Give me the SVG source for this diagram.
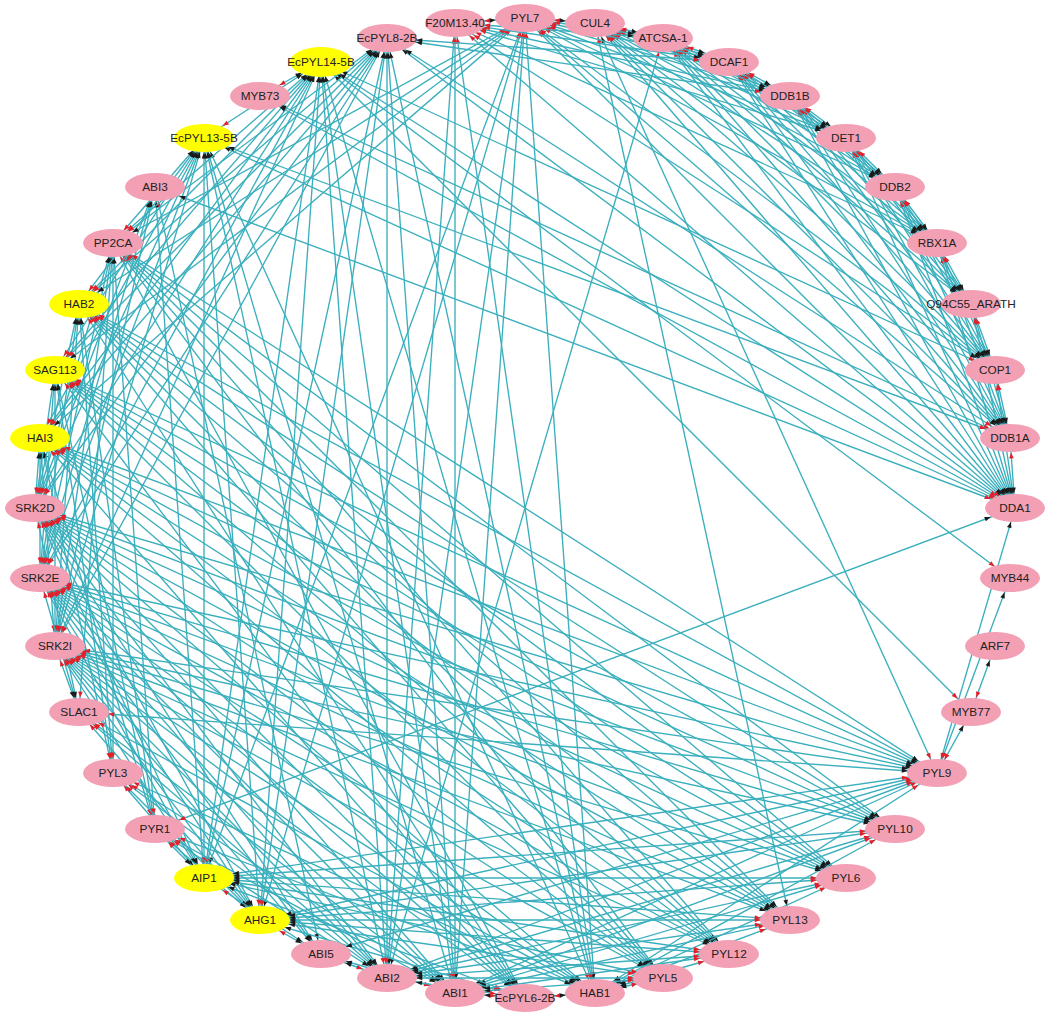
<svg xmlns="http://www.w3.org/2000/svg" width="1052" height="1016" viewBox="0 0 1052 1016">
<style>
.e path{fill:none;stroke:#3aafbd;stroke-width:1.35}
.A{marker-start:url(#rA);marker-end:url(#kA)}
.B{marker-start:url(#rB);marker-end:url(#kB)}
.C{marker-start:url(#rC);marker-end:url(#kC)}
.D{marker-start:url(#rD);marker-end:url(#kD)}
.E{marker-start:url(#rE);marker-end:url(#kE)}
.F{marker-start:url(#rF);marker-end:url(#kF)}
.G{marker-start:url(#rG);marker-end:url(#kG)}
.n ellipse{fill:#f3a0b5}
.n.y ellipse{fill:#ffff00}
.n text{font-family:"Liberation Sans",Arial,sans-serif;font-size:11.8px;fill:#222;text-anchor:middle}
.ak{fill:#1a1a1a}
.ar{fill:#e3202a}
</style>
<defs>
<marker id="kA" markerUnits="userSpaceOnUse" orient="auto" refX="14.5" refY="0" markerWidth="10" markerHeight="10" overflow="visible"><path class="ak" d="M0 0L-6 -2.3L-6 2.3Z"/></marker>
<marker id="kB" markerUnits="userSpaceOnUse" orient="auto" refX="15.3" refY="0" markerWidth="10" markerHeight="10" overflow="visible"><path class="ak" d="M0 0L-6 -2.3L-6 2.3Z"/></marker>
<marker id="kC" markerUnits="userSpaceOnUse" orient="auto" refX="16.5" refY="0" markerWidth="10" markerHeight="10" overflow="visible"><path class="ak" d="M0 0L-6 -2.3L-6 2.3Z"/></marker>
<marker id="kD" markerUnits="userSpaceOnUse" orient="auto" refX="19" refY="0" markerWidth="10" markerHeight="10" overflow="visible"><path class="ak" d="M0 0L-6 -2.3L-6 2.3Z"/></marker>
<marker id="kE" markerUnits="userSpaceOnUse" orient="auto" refX="22.3" refY="0" markerWidth="10" markerHeight="10" overflow="visible"><path class="ak" d="M0 0L-6 -2.3L-6 2.3Z"/></marker>
<marker id="kF" markerUnits="userSpaceOnUse" orient="auto" refX="26" refY="0" markerWidth="10" markerHeight="10" overflow="visible"><path class="ak" d="M0 0L-6 -2.3L-6 2.3Z"/></marker>
<marker id="kG" markerUnits="userSpaceOnUse" orient="auto" refX="29.3" refY="0" markerWidth="10" markerHeight="10" overflow="visible"><path class="ak" d="M0 0L-6 -2.3L-6 2.3Z"/></marker>
<marker id="rA" markerUnits="userSpaceOnUse" orient="auto-start-reverse" refX="14.5" refY="0" markerWidth="10" markerHeight="10" overflow="visible"><path class="ar" d="M0 0L-6 -2.3L-6 2.3Z"/></marker>
<marker id="rB" markerUnits="userSpaceOnUse" orient="auto-start-reverse" refX="15.3" refY="0" markerWidth="10" markerHeight="10" overflow="visible"><path class="ar" d="M0 0L-6 -2.3L-6 2.3Z"/></marker>
<marker id="rC" markerUnits="userSpaceOnUse" orient="auto-start-reverse" refX="16.5" refY="0" markerWidth="10" markerHeight="10" overflow="visible"><path class="ar" d="M0 0L-6 -2.3L-6 2.3Z"/></marker>
<marker id="rD" markerUnits="userSpaceOnUse" orient="auto-start-reverse" refX="19" refY="0" markerWidth="10" markerHeight="10" overflow="visible"><path class="ar" d="M0 0L-6 -2.3L-6 2.3Z"/></marker>
<marker id="rE" markerUnits="userSpaceOnUse" orient="auto-start-reverse" refX="22.3" refY="0" markerWidth="10" markerHeight="10" overflow="visible"><path class="ar" d="M0 0L-6 -2.3L-6 2.3Z"/></marker>
<marker id="rF" markerUnits="userSpaceOnUse" orient="auto-start-reverse" refX="26" refY="0" markerWidth="10" markerHeight="10" overflow="visible"><path class="ar" d="M0 0L-6 -2.3L-6 2.3Z"/></marker>
<marker id="rG" markerUnits="userSpaceOnUse" orient="auto-start-reverse" refX="29.3" refY="0" markerWidth="10" markerHeight="10" overflow="visible"><path class="ar" d="M0 0L-6 -2.3L-6 2.3Z"/></marker>
</defs>
<rect width="1052" height="1016" fill="#ffffff"/>
<g id="connectors" class="e">
<g class="A">
<path d="M937 243L1015 508"/><path d="M971 304L1010 438"/><path d="M971 304L1015 508"/><path d="M995 370L1010 438"/><path d="M995 370L1015 508"/><path d="M1010 438L1015 508"/>
<path d="M525 18L595 993"/><path d="M525 18L455 993"/><path d="M525 18L387 978"/><path d="M525 18L260 920"/>
<path d="M455 23L595 993"/><path d="M455 23L455 993"/><path d="M455 23L387 978"/>
<path d="M937 773L1015 508"/>
<path d="M155 829L40 438"/><path d="M155 829L55 370"/><path d="M155 829L79 304"/><path d="M155 829L113 243"/>
<path d="M113 773L40 438"/><path d="M113 773L55 370"/><path d="M113 773L79 304"/><path d="M113 773L113 243"/>
<path d="M455 993L204 138"/><path d="M387 978L204 138"/><path d="M260 920L204 138"/><path d="M204 878L204 138"/>
<path d="M595 993L321 62"/><path d="M455 993L321 62"/><path d="M387 978L321 62"/><path d="M260 920L321 62"/><path d="M204 878L321 62"/>
<path d="M595 993L387 38"/><path d="M455 993L387 38"/><path d="M387 978L387 38"/><path d="M260 920L387 38"/><path d="M204 878L387 38"/>
<path d="M55 646L40 438"/><path d="M55 646L55 370"/><path d="M55 646L79 304"/><path d="M55 646L113 243"/>
<path d="M40 578L40 438"/><path d="M40 578L55 370"/><path d="M40 578L79 304"/><path d="M40 578L113 243"/>
<path d="M35 508L40 438"/><path d="M35 508L55 370"/><path d="M35 508L79 304"/><path d="M35 508L113 243"/>
<path d="M55 646L204 138"/><path d="M40 578L79 712"/><path d="M35 508L79 712"/><path d="M79 712L113 243"/>
<path d="M155 187L321 954"/><path d="M55 646L155 187"/><path d="M40 578L155 187"/><path d="M204 878L155 187"/>
<path d="M595 23L790 920"/><path d="M663 38L387 978"/>
</g>
<g class="B">
<path d="M790 96L1015 508"/><path d="M846 138L1010 438"/><path d="M846 138L1015 508"/><path d="M895 187L995 370"/><path d="M895 187L1010 438"/><path d="M895 187L1015 508"/>
<path d="M937 243L971 304"/><path d="M937 243L995 370"/><path d="M937 243L1010 438"/><path d="M971 304L995 370"/>
<path d="M525 18L204 878"/><path d="M937 773L971 712"/><path d="M937 773L1010 578"/><path d="M971 712L995 646"/><path d="M937 773L595 23"/>
<path d="M113 243L525 998"/><path d="M595 993L204 138"/><path d="M40 438L204 138"/>
<path d="M55 646L321 62"/><path d="M40 578L321 62"/><path d="M55 646L387 38"/><path d="M40 578L204 138"/><path d="M35 508L204 138"/>
<path d="M40 578L204 878"/><path d="M35 508L260 920"/><path d="M35 508L204 878"/><path d="M55 646L79 712"/><path d="M35 508L155 187"/>
</g>
<g class="C">
<path d="M595 23L1015 508"/><path d="M663 38L1010 438"/><path d="M663 38L1015 508"/><path d="M729 62L995 370"/><path d="M729 62L1010 438"/><path d="M729 62L1015 508"/>
<path d="M790 96L971 304"/><path d="M790 96L995 370"/><path d="M790 96L1010 438"/><path d="M846 138L937 243"/><path d="M846 138L971 304"/><path d="M846 138L995 370"/>
<path d="M895 187L937 243"/><path d="M895 187L971 304"/>
<path d="M113 243L729 954"/><path d="M79 304L663 978"/><path d="M113 243L663 978"/>
<path d="M40 438L525 998"/><path d="M55 370L525 998"/><path d="M79 304L525 998"/>
<path d="M113 773L204 878"/><path d="M55 370L204 138"/><path d="M79 304L204 138"/><path d="M113 243L204 138"/>
<path d="M40 438L321 62"/><path d="M55 370L321 62"/><path d="M40 438L387 38"/>
<path d="M55 646L260 920"/><path d="M55 646L204 878"/><path d="M40 578L387 978"/><path d="M40 578L260 920"/><path d="M35 508L455 993"/><path d="M35 508L387 978"/>
<path d="M35 508L321 62"/><path d="M40 578L387 38"/><path d="M35 508L387 38"/>
<path d="M79 712L260 920"/><path d="M55 646L321 954"/><path d="M40 578L321 954"/><path d="M35 508L321 954"/>
</g>
<g class="D">
<path d="M595 23L971 304"/><path d="M595 23L995 370"/><path d="M595 23L1010 438"/><path d="M663 38L937 243"/><path d="M663 38L971 304"/><path d="M663 38L995 370"/>
<path d="M729 62L895 187"/><path d="M729 62L937 243"/><path d="M729 62L971 304"/><path d="M790 96L846 138"/><path d="M790 96L895 187"/><path d="M790 96L937 243"/><path d="M846 138L895 187"/>
<path d="M525 18L995 370"/><path d="M525 18L1010 438"/><path d="M525 18L1015 508"/><path d="M455 23L1015 508"/>
<path d="M1015 508L387 38"/><path d="M1010 578L321 62"/><path d="M971 712L321 62"/>
<path d="M525 18L40 438"/><path d="M525 18L55 370"/>
<path d="M113 243L895 829"/><path d="M79 304L846 878"/><path d="M113 243L846 878"/>
<path d="M55 370L790 920"/><path d="M79 304L790 920"/><path d="M113 243L790 920"/>
<path d="M40 438L729 954"/><path d="M55 370L729 954"/><path d="M79 304L729 954"/>
<path d="M40 438L663 978"/><path d="M55 370L663 978"/>
<path d="M155 829L260 920"/><path d="M155 829L204 878"/><path d="M113 773L387 978"/><path d="M113 773L260 920"/>
<path d="M79 304L321 62"/><path d="M113 243L321 62"/><path d="M55 370L387 38"/><path d="M79 304L387 38"/><path d="M113 243L387 38"/>
<path d="M55 646L455 993"/><path d="M55 646L387 978"/><path d="M40 578L595 993"/><path d="M40 578L455 993"/><path d="M35 508L595 993"/><path d="M35 508L663 978"/>
<path d="M55 646L525 998"/><path d="M40 578L525 998"/><path d="M35 508L525 998"/>
<path d="M79 712L455 993"/><path d="M79 712L387 978"/>
</g>
<g class="E">
<path d="M595 23L846 138"/><path d="M595 23L895 187"/><path d="M595 23L937 243"/><path d="M663 38L790 96"/><path d="M663 38L846 138"/><path d="M663 38L895 187"/>
<path d="M729 62L790 96"/><path d="M729 62L846 138"/>
<path d="M525 18L895 187"/><path d="M525 18L937 243"/><path d="M455 23L937 243"/><path d="M455 23L995 370"/>
<path d="M1010 438L387 38"/><path d="M1015 508L321 62"/><path d="M995 370L321 62"/><path d="M1015 508L204 138"/><path d="M1015 508L260 96"/><path d="M1010 438L260 96"/>
<path d="M260 96L321 62"/><path d="M204 138L321 62"/>
<path d="M525 18L79 304"/><path d="M525 18L113 243"/>
<path d="M937 773L595 993"/><path d="M937 773L455 993"/><path d="M55 370L937 773"/><path d="M79 304L937 773"/><path d="M113 243L937 773"/>
<path d="M895 829L595 993"/><path d="M40 438L895 829"/><path d="M55 370L895 829"/><path d="M79 304L895 829"/>
<path d="M846 878L595 993"/><path d="M40 438L846 878"/><path d="M55 370L846 878"/><path d="M40 438L790 920"/>
<path d="M155 829L455 993"/><path d="M155 829L387 978"/><path d="M113 773L595 993"/><path d="M113 773L455 993"/>
<path d="M55 646L595 993"/><path d="M55 646L729 954"/><path d="M55 646L663 978"/>
<path d="M40 578L790 920"/><path d="M40 578L729 954"/><path d="M40 578L663 978"/>
<path d="M35 508L846 878"/><path d="M35 508L790 920"/><path d="M35 508L729 954"/>
<path d="M79 712L595 993"/><path d="M204 878L321 954"/><path d="M260 920L321 954"/>
</g>
<g class="F">
<path d="M595 23L663 38"/><path d="M595 23L729 62"/><path d="M595 23L790 96"/><path d="M663 38L729 62"/>
<path d="M525 18L729 62"/><path d="M525 18L790 96"/><path d="M525 18L846 138"/><path d="M455 23L790 96"/><path d="M455 23L846 138"/>
<path d="M1010 438L204 138"/><path d="M1015 508L155 187"/><path d="M155 829L1015 508"/>
<path d="M937 773L387 978"/><path d="M937 773L260 920"/><path d="M40 438L937 773"/>
<path d="M895 829L455 993"/><path d="M895 829L387 978"/><path d="M846 878L455 993"/><path d="M846 878L387 978"/>
<path d="M790 920L595 993"/><path d="M790 920L455 993"/><path d="M729 954L595 993"/><path d="M663 978L595 993"/><path d="M663 978L204 878"/>
<path d="M525 998L260 920"/><path d="M525 998L204 878"/><path d="M155 829L595 993"/>
<path d="M55 646L895 829"/><path d="M55 646L846 878"/><path d="M55 646L790 920"/>
<path d="M40 578L937 773"/><path d="M40 578L895 829"/><path d="M40 578L846 878"/>
<path d="M35 508L937 773"/><path d="M35 508L895 829"/>
<path d="M455 993L321 954"/><path d="M387 978L321 954"/><path d="M937 773L321 954"/>
</g>
<g class="G">
<path d="M525 18L595 23"/><path d="M525 18L663 38"/><path d="M455 23L525 18"/><path d="M455 23L663 38"/><path d="M455 23L729 62"/>
<path d="M790 96L387 38"/><path d="M729 62L387 38"/>
<path d="M937 773L204 878"/><path d="M895 829L260 920"/><path d="M895 829L204 878"/><path d="M846 878L260 920"/><path d="M846 878L204 878"/>
<path d="M790 920L387 978"/><path d="M790 920L260 920"/><path d="M790 920L204 878"/>
<path d="M729 954L455 993"/><path d="M729 954L387 978"/><path d="M729 954L260 920"/><path d="M729 954L204 878"/>
<path d="M663 978L455 993"/><path d="M663 978L387 978"/><path d="M663 978L260 920"/>
<path d="M525 998L595 993"/><path d="M525 998L455 993"/><path d="M525 998L387 978"/>
<path d="M55 646L937 773"/><path d="M79 712L937 773"/>
</g>
</g>
<g id="nodes">
<g id="n-PYL7" class="n"><ellipse cx="525" cy="18" rx="30" ry="14"/><text x="525" y="22">PYL7</text></g>
<g id="n-CUL4" class="n"><ellipse cx="595" cy="23" rx="30" ry="14"/><text x="595" y="27">CUL4</text></g>
<g id="n-ATCSA-1" class="n"><ellipse cx="663" cy="38" rx="30" ry="14"/><text x="663" y="42">ATCSA-1</text></g>
<g id="n-DCAF1" class="n"><ellipse cx="729" cy="62" rx="30" ry="14"/><text x="729" y="66">DCAF1</text></g>
<g id="n-DDB1B" class="n"><ellipse cx="790" cy="96" rx="30" ry="14"/><text x="790" y="100">DDB1B</text></g>
<g id="n-DET1" class="n"><ellipse cx="846" cy="138" rx="30" ry="14"/><text x="846" y="142">DET1</text></g>
<g id="n-DDB2" class="n"><ellipse cx="895" cy="187" rx="30" ry="14"/><text x="895" y="191">DDB2</text></g>
<g id="n-RBX1A" class="n"><ellipse cx="937" cy="243" rx="30" ry="14"/><text x="937" y="247">RBX1A</text></g>
<g id="n-Q94C55_ARATH" class="n"><ellipse cx="971" cy="304" rx="30" ry="14"/><text x="971" y="308">Q94C55_ARATH</text></g>
<g id="n-COP1" class="n"><ellipse cx="995" cy="370" rx="30" ry="14"/><text x="995" y="374">COP1</text></g>
<g id="n-DDB1A" class="n"><ellipse cx="1010" cy="438" rx="30" ry="14"/><text x="1010" y="442">DDB1A</text></g>
<g id="n-DDA1" class="n"><ellipse cx="1015" cy="508" rx="30" ry="14"/><text x="1015" y="512">DDA1</text></g>
<g id="n-MYB44" class="n"><ellipse cx="1010" cy="578" rx="30" ry="14"/><text x="1010" y="582">MYB44</text></g>
<g id="n-ARF7" class="n"><ellipse cx="995" cy="646" rx="30" ry="14"/><text x="995" y="650">ARF7</text></g>
<g id="n-MYB77" class="n"><ellipse cx="971" cy="712" rx="30" ry="14"/><text x="971" y="716">MYB77</text></g>
<g id="n-PYL9" class="n"><ellipse cx="937" cy="773" rx="30" ry="14"/><text x="937" y="777">PYL9</text></g>
<g id="n-PYL10" class="n"><ellipse cx="895" cy="829" rx="30" ry="14"/><text x="895" y="833">PYL10</text></g>
<g id="n-PYL6" class="n"><ellipse cx="846" cy="878" rx="30" ry="14"/><text x="846" y="882">PYL6</text></g>
<g id="n-PYL13" class="n"><ellipse cx="790" cy="920" rx="30" ry="14"/><text x="790" y="924">PYL13</text></g>
<g id="n-PYL12" class="n"><ellipse cx="729" cy="954" rx="30" ry="14"/><text x="729" y="958">PYL12</text></g>
<g id="n-PYL5" class="n"><ellipse cx="663" cy="978" rx="30" ry="14"/><text x="663" y="982">PYL5</text></g>
<g id="n-HAB1" class="n"><ellipse cx="595" cy="993" rx="30" ry="14"/><text x="595" y="997">HAB1</text></g>
<g id="n-EcPYL6-2B" class="n"><ellipse cx="525" cy="998" rx="30" ry="14"/><text x="525" y="1002">EcPYL6-2B</text></g>
<g id="n-ABI1" class="n"><ellipse cx="455" cy="993" rx="30" ry="14"/><text x="455" y="997">ABI1</text></g>
<g id="n-ABI2" class="n"><ellipse cx="387" cy="978" rx="30" ry="14"/><text x="387" y="982">ABI2</text></g>
<g id="n-ABI5" class="n"><ellipse cx="321" cy="954" rx="30" ry="14"/><text x="321" y="958">ABI5</text></g>
<g id="n-AHG1" class="n y"><ellipse cx="260" cy="920" rx="30" ry="14"/><text x="260" y="924">AHG1</text></g>
<g id="n-AIP1" class="n y"><ellipse cx="204" cy="878" rx="30" ry="14"/><text x="204" y="882">AIP1</text></g>
<g id="n-PYR1" class="n"><ellipse cx="155" cy="829" rx="30" ry="14"/><text x="155" y="833">PYR1</text></g>
<g id="n-PYL3" class="n"><ellipse cx="113" cy="773" rx="30" ry="14"/><text x="113" y="777">PYL3</text></g>
<g id="n-SLAC1" class="n"><ellipse cx="79" cy="712" rx="30" ry="14"/><text x="79" y="716">SLAC1</text></g>
<g id="n-SRK2I" class="n"><ellipse cx="55" cy="646" rx="30" ry="14"/><text x="55" y="650">SRK2I</text></g>
<g id="n-SRK2E" class="n"><ellipse cx="40" cy="578" rx="30" ry="14"/><text x="40" y="582">SRK2E</text></g>
<g id="n-SRK2D" class="n"><ellipse cx="35" cy="508" rx="30" ry="14"/><text x="35" y="512">SRK2D</text></g>
<g id="n-HAI3" class="n y"><ellipse cx="40" cy="438" rx="30" ry="14"/><text x="40" y="442">HAI3</text></g>
<g id="n-SAG113" class="n y"><ellipse cx="55" cy="370" rx="30" ry="14"/><text x="55" y="374">SAG113</text></g>
<g id="n-HAB2" class="n y"><ellipse cx="79" cy="304" rx="30" ry="14"/><text x="79" y="308">HAB2</text></g>
<g id="n-PP2CA" class="n"><ellipse cx="113" cy="243" rx="30" ry="14"/><text x="113" y="247">PP2CA</text></g>
<g id="n-ABI3" class="n"><ellipse cx="155" cy="187" rx="30" ry="14"/><text x="155" y="191">ABI3</text></g>
<g id="n-EcPYL13-5B" class="n y"><ellipse cx="204" cy="138" rx="30" ry="14"/><text x="204" y="142">EcPYL13-5B</text></g>
<g id="n-MYB73" class="n"><ellipse cx="260" cy="96" rx="30" ry="14"/><text x="260" y="100">MYB73</text></g>
<g id="n-EcPYL14-5B" class="n y"><ellipse cx="321" cy="62" rx="31" ry="15"/><text x="321" y="66">EcPYL14-5B</text></g>
<g id="n-EcPYL8-2B" class="n"><ellipse cx="387" cy="38" rx="30" ry="14"/><text x="387" y="42">EcPYL8-2B</text></g>
<g id="n-F20M13.40" class="n"><ellipse cx="455" cy="23" rx="30" ry="14"/><text x="455" y="27">F20M13.40</text></g>
</g>
</svg>
